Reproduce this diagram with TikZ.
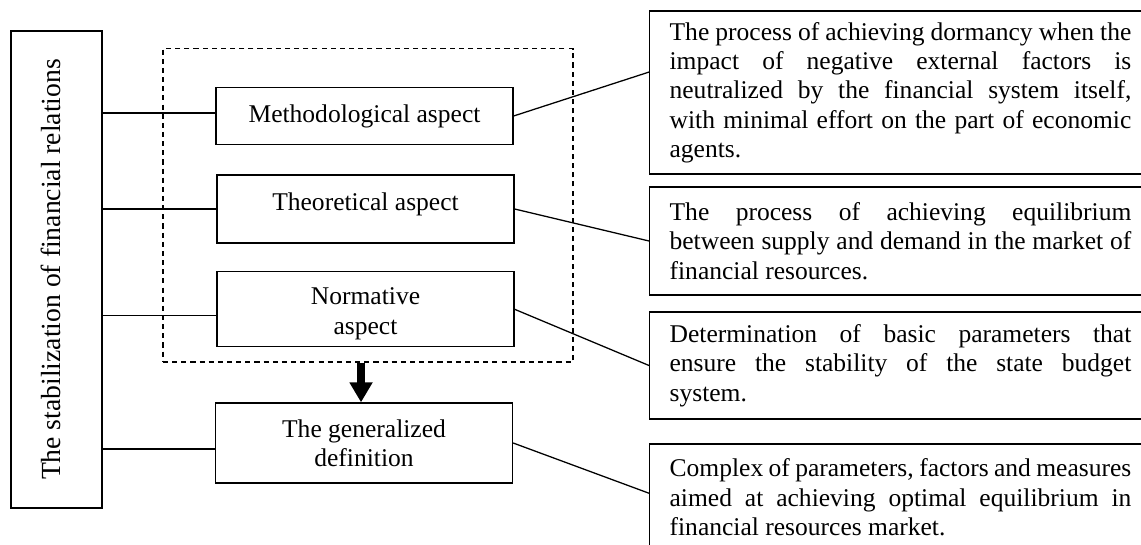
\documentclass[tikz,border=0pt]{standalone}
\usepackage{fontspec}
\setmainfont{Liberation Serif}
\usetikzlibrary{arrows.meta}
\tolerance=10000
\hbadness=10000
\hyphenpenalty=10000
\newcommand{\deftext}[1]{\parbox{217pt}{#1}}
\tikzset{
  box/.style={draw, line width=0.6pt, minimum width=139.6pt, align=center, font=\fontsize{12}{13.8}\selectfont},
  defbox/.style={draw, line width=0.6pt, anchor=west, inner xsep=9.4pt, font=\fontsize{12}{13.8}\selectfont}
}
\begin{document}
\begin{tikzpicture}[x=0.47pt, y=-0.47pt]
\clip (0,0) rectangle (1141,545);
\node[draw, line width=0.6pt, rotate=90, minimum width=224.2pt, minimum height=42.8pt, text depth=5.6pt,
  font=\fontsize{13}{15}\selectfont] (stab) at (56.5,269.5) {The stabilization of financial relations};
\node[draw, line width=0.6pt, dash pattern=on 2.4pt off 1.9pt, minimum width=192.7pt, minimum height=147.3pt] (group) at (368,205.3) {};
\node[box, minimum height=26.6pt] (meth) at (364.5,116) {Methodological aspect};
\node[box, minimum height=32pt, text depth=6.6pt] (theo) at (365.5,209) {Theoretical aspect};
\node[box, minimum height=34.3pt, text height=26pt] (norm) at (365.5,309.3) {Normative\\aspect};
\node[box, minimum height=37.6pt] (gen) at (364,443) {The generalized\\definition};
\node[defbox, minimum height=76.6pt] (d1) at (649,92.5) {\deftext{The process of achieving dormancy when the\linebreak{} impact of negative external factors is\linebreak{} neutralized by the financial system itself,\linebreak{} with minimal effort on the part of economic\linebreak{} agents.}};
\node[defbox, minimum height=50.8pt] (d2) at (649,241) {\deftext{The process of achieving equilibrium\linebreak{} between supply and demand in the market of\linebreak{} financial resources.}};
\node[defbox, minimum height=50.3pt] (d3) at (649,365.5) {\deftext{Determination of basic parameters that\linebreak{} ensure the stability of the state budget\linebreak{} system.}};
\node[defbox, minimum height=50.3pt] (d4) at (649,497.5) {\deftext{Complex of parameters, factors and measures\linebreak{} aimed at achieving optimal equilibrium in\linebreak{} financial resources market.}};
\foreach \n/\s in {meth/1.4pt, theo/0pt, norm/-2.8pt, gen/-2.8pt}
  \draw[line width=0.6pt] ([yshift=\s]\n.west -| stab.south) -- ([yshift=\s]\n.west);
\draw[line width=0.6pt] (meth.east) -- ([yshift=9.6pt]d1.west);
\draw[line width=0.6pt] (theo.east) -- (d2.west);
\draw[line width=0.6pt] (norm.east) -- (d3.west);
\draw[line width=0.6pt] (gen.east) -- ([yshift=2pt]d4.west);
\draw[-{Triangle[width=10.3pt,length=9.4pt]}, line width=3.8pt] ([xshift=-1.4pt]group.south -| gen.north) -- ([xshift=-1.4pt]gen.north);
\end{tikzpicture}
\end{document}
